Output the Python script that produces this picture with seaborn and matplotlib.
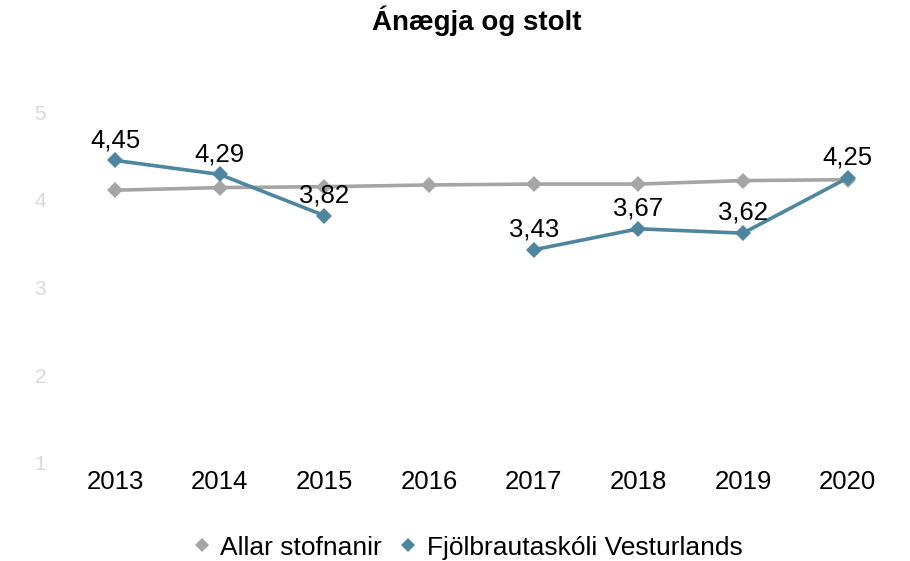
import pandas as pd
import matplotlib.pyplot as plt
import seaborn as sns
from matplotlib.lines import Line2D

years = [2013, 2014, 2015, 2016, 2017, 2018, 2019, 2020]
allar = [4.11, 4.14, 4.15, 4.17, 4.18, 4.18, 4.22, 4.23]
fva = [4.45, 4.29, 3.82, None, 3.43, 3.67, 3.62, 4.25]
series_names = ['Allar stofnanir', 'Fjölbrautaskóli Vesturlands']
colors = ['#a5a5a5', '#4e86a0']

rows = []
for y, v in zip(years, allar):
    rows.append({'year': y, 'value': v, 'series': series_names[0], 'seg': 0})
seg = 1
for y, v in zip(years, fva):
    if v is None:
        seg += 1
        continue
    rows.append({'year': y, 'value': v, 'series': series_names[1], 'seg': seg})
df = pd.DataFrame(rows)

sns.set_style('white')
plt.rcParams['font.family'] = ['Liberation Sans', 'DejaVu Sans']

fig = plt.figure(figsize=(9.1, 5.61), dpi=100)
ax = fig.add_axes([0.069, 0.175, 0.92, 0.625])

sns.lineplot(df, x='year', y='value', hue='series', units='seg',
             estimator=None, palette=dict(zip(series_names, colors)),
             marker='D', markersize=8, markeredgewidth=0, linewidth=2.6,
             legend=False, ax=ax)

for y, v in zip(years, fva):
    if v is not None:
        ax.annotate(f'{v:.2f}'.replace('.', ','), (y, v), xytext=(0, 9.5),
                    textcoords='offset points', ha='center', va='baseline',
                    fontsize=18.5, color='black')

ax.set_xlim(2012.5, 2020.5)
ax.set_ylim(1, 5)
ax.set_xticks(years)
ax.set_xticklabels([str(y) for y in years])
ax.set_yticks([1, 2, 3, 4, 5])
ax.tick_params(axis='x', labelsize=18.5, colors='black', length=0, pad=5)
ax.tick_params(axis='y', labelsize=15, labelcolor='#d9d9d9', length=0, pad=12)
ax.set_xlabel('')
ax.set_ylabel('')
for s in ax.spines.values():
    s.set_visible(False)

fig.suptitle('Ánægja og stolt', fontsize=20, fontweight='bold', color='black',
             x=0.524, y=0.99)

handles = [Line2D([], [], marker='D', color=c, linestyle='None', markersize=7,
                  markeredgewidth=0) for c in colors]
leg = fig.legend(handles, series_names, loc='lower center', ncol=2,
                 frameon=False, fontsize=19, bbox_to_anchor=(0.51, -0.04),
                 handletextpad=0.1, columnspacing=0.4, handlelength=1.2)
for t in leg.get_texts():
    t.set_color('black')

fig.savefig('out.png', dpi=100)
